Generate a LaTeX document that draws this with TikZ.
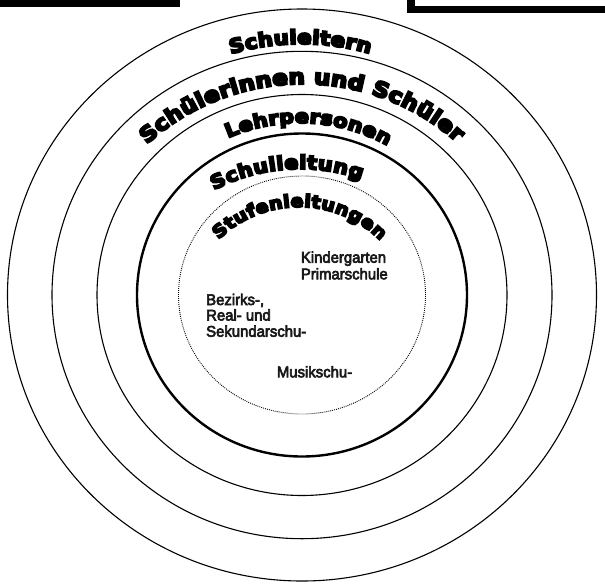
\documentclass[tikz,border=0pt]{standalone}
\usepackage{fontspec}
\setmainfont{Liberation Sans}
\newfontfamily\blackfont[FakeBold=10,FakeStretch=1.1]{DejaVu Sans Bold}
\newfontfamily\innerfont[FakeBold=4,FakeStretch=0.96]{Liberation Sans}
\usetikzlibrary{decorations.text}
\begin{document}
\begin{tikzpicture}[x=1pt,y=1pt,
  ring/.style={line width=1.1pt},
  ringthick/.style={line width=2.4pt},
  ringdot/.style={line width=0.9pt, dash pattern=on 0.9pt off 1.1pt},
  innertext/.style={font=\innerfont\fontsize{15.5}{18}\selectfont, anchor=base west, inner sep=0pt, text=black!90},
  arcpath/.style={decorate, decoration={text along path, text align=fit to path, text={#1}}}
]
\clip (0,0) rectangle (605,-584);
\fill[white] (0,0) rectangle (605,-584);

% top boxes
\fill[black] (0,0) rectangle (180,-7);
\draw[line width=7.5pt] (411.2,12) |- (620,-9.7);

% rings
\coordinate (c) at (302,-295);
\draw[ring] (c) ellipse[x radius=294.5pt, y radius=286pt];
\draw[ring] (c) ellipse[x radius=250pt, y radius=243.7pt];
\draw[ring] (c) ellipse[x radius=205pt, y radius=200.5pt];
\draw[ringthick] (c) ellipse[x radius=165pt, y radius=161.5pt];
\draw[ringdot] (c) ellipse[x radius=123.5pt, y radius=119pt];

% curved labels
\coordinate (c1) at (301,-294);
\path[arcpath={|\blackfont\fontsize{19.5}{20}\selectfont|Schuleltern}]
  (c1) ++(106.3:250pt) arc[start angle=106.3, end angle=74, radius=250pt];

\coordinate (c2) at (303,-316);
\path[arcpath={|\blackfont\fontsize{21}{22}\selectfont|Schülerinnen und Schüler}]
  (c2) ++(132.3:232pt) arc[start angle=132.3, end angle=48.5, radius=232pt];

\coordinate (c3) at (300,-303);
\path[arcpath={|\blackfont\fontsize{19}{20}\selectfont|Lehrpersonen}]
  (c3) ++(113.6:180pt) arc[start angle=113.6, end angle=60.9, radius=180pt];

\coordinate (c4) at (300,-354);
\path[arcpath={|\blackfont\fontsize{19}{20}\selectfont|Schulleitung}]
  (c4) ++(117.7:185pt) arc[start angle=117.7, end angle=70.6, radius=185pt];

\coordinate (c5) at (299,-322);
\path[arcpath={|\blackfont\fontsize{17.5}{18}\selectfont|Stufenleitungen}]
  (c5) ++(134.3:115pt) arc[start angle=134.3, end angle=45, radius=115pt];

% inner labels
\node[innertext] (kg) at (300.7,-262.7) {Kindergarten};
\node[innertext] (ps) at (300.7,-279.3) {Primarschule};
\node[innertext] (bz1) at (206,-305) {Bezirks-,};
\node[innertext] (bz2) at (206,-320.5) {Real- und};
\node[innertext] (bz3) at (206,-336.7) {Sekundarschu-};
\node[innertext] (ms) at (276.7,-377.3) {Musikschu-};
\end{tikzpicture}
\end{document}
